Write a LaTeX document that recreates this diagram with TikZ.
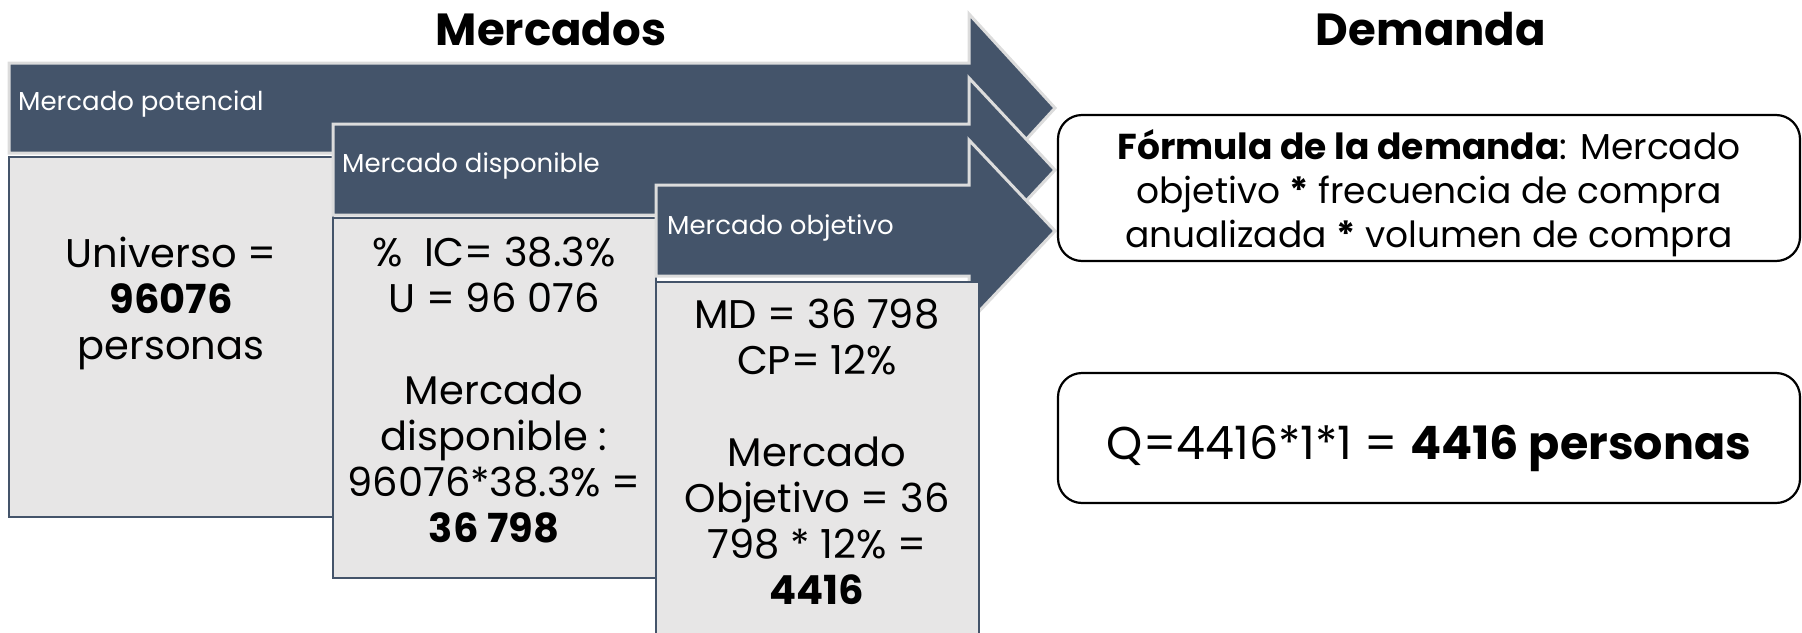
\documentclass[tikz,border=0pt]{standalone}
\usepackage{fontspec}
\setmainfont{Poppins}
\definecolor{slate}{HTML}{44546A}
\definecolor{boxgray}{HTML}{E7E6E6}
\definecolor{arrowedge}{HTML}{DCDCDC}
\begin{document}
\begin{tikzpicture}[x=1pt,y=-1pt,
  arrowshape/.style={fill=slate, draw=arrowedge, line width=3pt, line join=miter},
  graybox/.style={fill=boxgray, draw=slate, line width=1.5pt},
  arrowlabel/.style={text=white, anchor=west, inner sep=0pt, font=\fontsize{26}{30}\selectfont},
  boxtext/.style={align=center, inner sep=0pt, font=\fontsize{40}{46}\selectfont},
  titletext/.style={font=\fontsize{45}{52}\selectfont\bfseries, inner sep=0pt},
  roundbox/.style={draw=black, line width=2.2pt, fill=white, rounded corners=24pt, minimum width=742pt, inner sep=0pt}
]
\useasboundingbox (0,0) rectangle (1802,632);
\clip (0,0) rectangle (1802,632);
% titles
\node[titletext] (tm) at (551,29) {Mercados};
\node[titletext] (td) at (1431,29) {Demanda};
% arrow 1 and box 1
\draw[arrowshape] (9,63) -- (969,63) -- (969,14) -- (1055,108) -- (969,202) -- (969,153) -- (9,153) -- cycle;
\draw[graybox] (9,157) rectangle (333,517);
% arrow 2 and box 2
\draw[arrowshape] (333,124) -- (969,124) -- (969,78) -- (1055,170) -- (969,262) -- (969,215) -- (333,215) -- cycle;
\draw[graybox] (333,218) rectangle (656,578);
% arrow 3 and box 3
\draw[arrowshape] (656,185) -- (969,185) -- (969,140) -- (1055,231) -- (969,322) -- (969,276) -- (656,276) -- cycle;
\draw[graybox] (656,282) rectangle (979,660);
% arrow labels
\node[arrowlabel] (lpot) at (18,104) {Mercado potencial};
\node[arrowlabel] (ldis) at (342,166) {Mercado disponible};
\node[arrowlabel] (lobj) at (667,228) {Mercado objetivo};
% box texts
\node[boxtext] (t1) at (171,303) {Universo =\\\textbf{96076}\\personas};
\node[boxtext] (t2) at (494,390) {\%\ \ IC= 38.3\%\\U = 96 076\\[46pt]Mercado\\disponible :\\96076*38.3\% =\\\textbf{36 798}};
\node[boxtext] (t3) at (817,452) {MD = 36 798\\CP= 12\%\\[46pt]Mercado\\Objetivo = 36\\798 * 12\% =\\\textbf{4416}};
% right boxes
\node[roundbox, minimum height=146pt] (formula) at (1429,188) {};
\node[align=center, inner sep=0pt, font=\fontsize{36}{44}\selectfont] (ftext) at (1429,193)
  {\textbf{Fórmula de la demanda}: Mercado\\objetivo \textbf{*} frecuencia de compra\\anualizada \textbf{*} volumen de compra};
\node[roundbox, minimum height=130pt] (q) at (1429,438) {};
\node[anchor=base, inner sep=0pt, font=\fontsize{46}{52}\selectfont] (qtext) at (1429,459)
  {Q=4416*1*1 = \textbf{4416 personas}};
\end{tikzpicture}
\end{document}
